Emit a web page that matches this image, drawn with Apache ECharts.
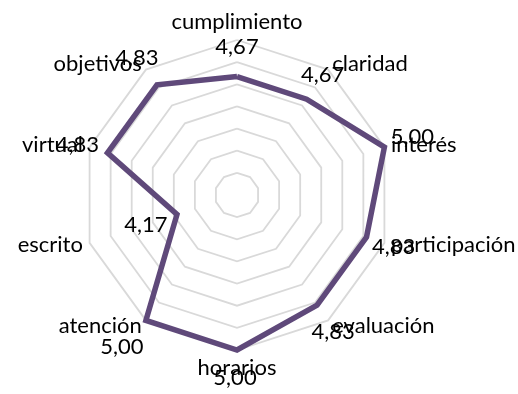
<!DOCTYPE html>
<html>
<head>
<meta charset="utf-8">
<script src="https://cdn.jsdelivr.net/npm/echarts@6/dist/echarts.min.js"></script>
<style>
  html, body { margin: 0; padding: 0; background: #ffffff; }
  #chart { width: 518px; height: 394px; }
</style>
</head>
<body>
<div id="chart"></div>
<script>
// Survey dimensions, listed clockwise from the top
const categories = ['cumplimiento', 'claridad', 'interés', 'participación', 'evaluación',
                    'horarios', 'atención', 'escrito', 'virtual', 'objetivos'];
const values = [4.67, 4.67, 5.00, 4.83, 4.83, 5.00, 5.00, 4.17, 4.83, 4.83];
const axisMin = 3.6;
const axisMax = 5.0;
const ringCount = 7;

// Where each value label sits relative to its vertex (px)
const labelOffsets = [[0, -30], [16, -24], [28, -10], [27, 10], [16, 27],
                      [-2, 28], [-24, 27], [-31, 10], [-30, -8], [-20, -27]];

const FONT = 'Lato, "Liberation Sans", sans-serif';
const FONT_SIZE = 22;
const LINE_COLOR = '#5f497a';

// ECharts lays radar indicators out counter-clockwise, so feed them in reverse
// (keeping the first one on top) to get a clockwise chart.
const order = [0].concat(categories.map((_, i) => i).slice(1).reverse());
const fmt = v => v.toFixed(2).replace('.', ',');

const chart = echarts.init(document.getElementById('chart'), null, { renderer: 'canvas' });

chart.setOption({
  animation: false,
  backgroundColor: '#ffffff',
  radar: {
    center: [237, 195],
    radius: 155,
    startAngle: 90,
    shape: 'polygon',
    splitNumber: ringCount,
    nameGap: 7,
    indicator: order.map(i => ({ name: categories[i], min: axisMin, max: axisMax })),
    axisName: { color: '#000000', fontFamily: FONT, fontSize: FONT_SIZE },
    axisLine: { show: false },
    axisTick: { show: false },
    axisLabel: { show: false },
    splitLine: { lineStyle: { color: '#d9d9d9', width: 1.8 } },
    splitArea: { show: false }
  },
  series: [{
    type: 'radar',
    silent: true,
    symbol: 'none',
    data: [{
      value: order.map(i => values[i]),
      lineStyle: { color: LINE_COLOR, width: 5.5, join: 'miter', miterLimit: 10 }
    }]
  }]
});

// Value labels, anchored to the points the radar coordinate system computes
const radarCoord = chart.getModel().getComponent('radar').coordinateSystem;
const labels = categories.map((_, i) => {
  const p = radarCoord.dataToPoint(values[i], order.indexOf(i));
  const off = labelOffsets[i];
  return {
    type: 'text',
    silent: true,
    x: p[0] + off[0],
    y: p[1] + off[1],
    style: {
      text: fmt(values[i]),
      fill: '#000000',
      font: FONT_SIZE + 'px ' + FONT,
      align: 'center',
      verticalAlign: 'middle'
    }
  };
});
chart.setOption({ graphic: labels });
</script>
</body>
</html>
